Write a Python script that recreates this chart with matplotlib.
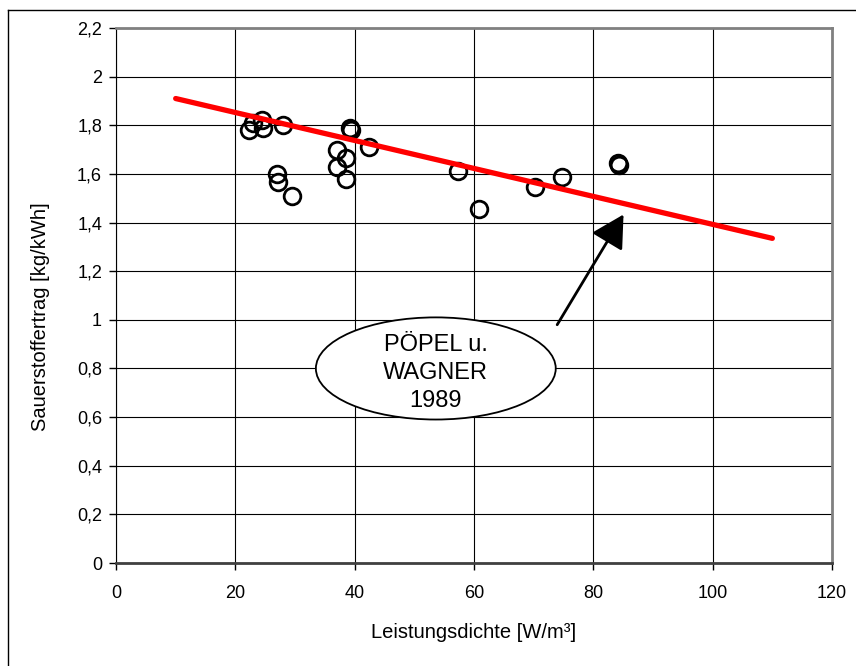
import matplotlib
matplotlib.use('Agg')
import matplotlib.pyplot as plt
from matplotlib.patches import Ellipse
from matplotlib.lines import Line2D
import numpy as np

plt.rcParams['font.family'] = ['Liberation Sans', 'DejaVu Sans']

# measured points (Leistungsdichte, Sauerstoffertrag)
leistung = [22.3, 22.9, 24.5, 24.6, 28.0, 27.0, 27.1, 29.5, 37.0, 38.5, 37.0, 38.5,
            39.2, 39.4, 42.4, 57.4, 60.9, 70.3, 74.8, 84.2, 84.3]
ertrag = [1.78, 1.81, 1.82, 1.79, 1.80, 1.60, 1.565, 1.51, 1.70, 1.665, 1.63, 1.58,
          1.79, 1.78, 1.71, 1.613, 1.454, 1.545, 1.586, 1.643, 1.638]

# Poepel u. Wagner 1989 trend line
trend_x = [10, 110]
trend_y = [1.91, 1.335]

xticks = [0, 20, 40, 60, 80, 100, 120]
yticks = [0, 0.2, 0.4, 0.6, 0.8, 1.0, 1.2, 1.4, 1.6, 1.8, 2.0, 2.2]

fig = plt.figure(figsize=(8.56, 6.66), dpi=100)
ax = fig.add_axes([116/856, 1-563/666, (832-116)/856, (563-28)/666])

ax.plot(leistung, ertrag, 'o', mfc='none', mec='black', ms=12, mew=2, zorder=3)
ax.plot(trend_x, trend_y, color='#ff0000', lw=3.8, solid_capstyle='round', zorder=4)

ax.set_xlim(0, 120)
ax.set_ylim(0, 2.2)
ax.set_xticks(xticks)
ax.set_yticks(yticks)
ax.set_xticklabels([str(t) for t in xticks])
ax.set_yticklabels([('%g' % t).replace('.', ',') for t in yticks])
ax.tick_params(labelsize=13, length=5, width=1, direction='out')
ax.tick_params(axis='x', pad=11)
ax.tick_params(axis='y', pad=5)
ax.grid(True, color='black', lw=0.8)
ax.set_axisbelow(True)

for s in ['top', 'right']:
    ax.spines[s].set_color('#808080')
    ax.spines[s].set_linewidth(2)
ax.spines['left'].set_color('black')
ax.spines['bottom'].set_color('#404040')
ax.spines['bottom'].set_linewidth(2)

ax.set_xlabel('Leistungsdichte [W/m³]', fontsize=14.5)
ax.set_ylabel('Sauerstoffertrag [kg/kWh]', fontsize=14.5)
ax.xaxis.set_label_coords(0.5, -0.129)
ax.yaxis.set_label_coords(-0.106, 0.46)
ax.xaxis.label.set_va('center')
ax.yaxis.label.set_va('center')

# annotation arrow and ellipse
ax.annotate('', xy=(85.3, 1.443), xytext=(73.7, 0.97),
            arrowprops=dict(arrowstyle='-|>,head_length=2.0,head_width=1.1',
                            color='black', lw=2), zorder=5)
ell = Ellipse((53.6, 0.80), 40.2, 0.42, facecolor='white', edgecolor='black',
              lw=1.3, zorder=6)
ax.add_patch(ell)
ax.text(53.6, 0.78, 'PÖPEL u.\nWAGNER\n1989', ha='center', va='center',
        fontsize=17, linespacing=1.35, zorder=7)

# figure frame (top and left visible)
fig.add_artist(Line2D([8/856, 1], [1-10/666, 1-10/666], color='black', lw=1,
                      transform=fig.transFigure))
fig.add_artist(Line2D([8/856, 8/856], [0, 1-10/666], color='black', lw=1,
                      transform=fig.transFigure))

fig.savefig('out.png', dpi=100)
